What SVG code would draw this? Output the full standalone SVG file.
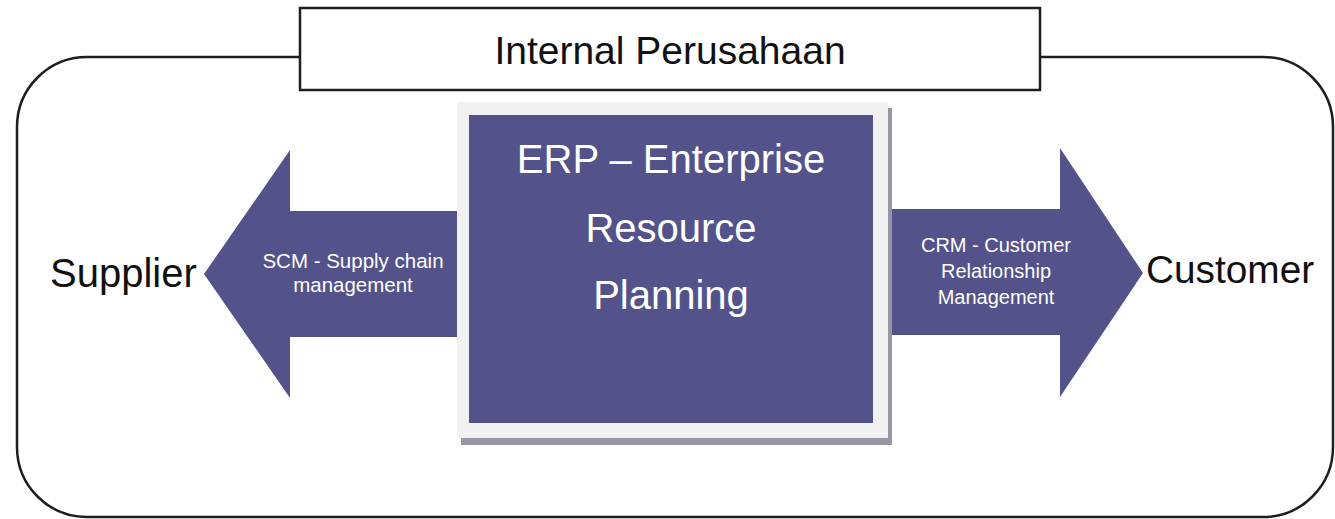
<svg xmlns="http://www.w3.org/2000/svg" width="1335" height="519" viewBox="0 0 1335 519">
<style>
text{font-family:"Liberation Sans",Arial,sans-serif}
.frame{fill:#ffffff;stroke:#1e1e1e;stroke-width:2.5}
.purple{fill:#53528a}
.wt{fill:#ffffff;text-anchor:middle}
.bk{fill:#111111}
</style>
<rect width="1335" height="519" fill="#ffffff"/>
<g id="container">
<rect class="frame" x="17" y="57" width="1316" height="460" rx="70" ry="70"/>
</g>
<g id="title">
<rect class="frame" x="300" y="8" width="740" height="82"/>
<text class="bk" x="670" y="64" font-size="39" text-anchor="middle">Internal Perusahaan</text>
</g>
<g id="connectors">
<g id="scm-arrow">
<polygon class="purple" points="204,274 290,150 290,211 470,211 470,337 290,337 290,398"/>
<text class="wt" font-size="20.5"><tspan x="353" y="268">SCM - Supply chain</tspan><tspan x="353" y="292">management</tspan></text>
</g>
<g id="crm-arrow">
<polygon class="purple" points="875,209 1060,209 1060,148 1143,273 1060,397 1060,335 875,335"/>
<text class="wt" font-size="20"><tspan x="996" y="252">CRM - Customer</tspan><tspan x="996" y="278">Relationship</tspan><tspan x="996" y="304">Management</tspan></text>
</g>
</g>
<g id="erp">
<rect x="461" y="108" width="431" height="337" fill="#9797a3"/>
<rect x="457" y="102" width="431" height="336" fill="#f1f1f1"/>
<rect class="purple" x="469" y="115" width="404" height="308"/>
<text class="wt" font-size="40"><tspan x="671" y="173">ERP – Enterprise</tspan><tspan x="671" y="242">Resource</tspan><tspan x="671" y="309">Planning</tspan></text>
</g>
<g id="supplier">
<text class="bk" x="50" y="287" font-size="40">Supplier</text>
</g>
<g id="customer">
<text class="bk" x="1146" y="283" font-size="38.8">Customer</text>
</g>
</svg>
